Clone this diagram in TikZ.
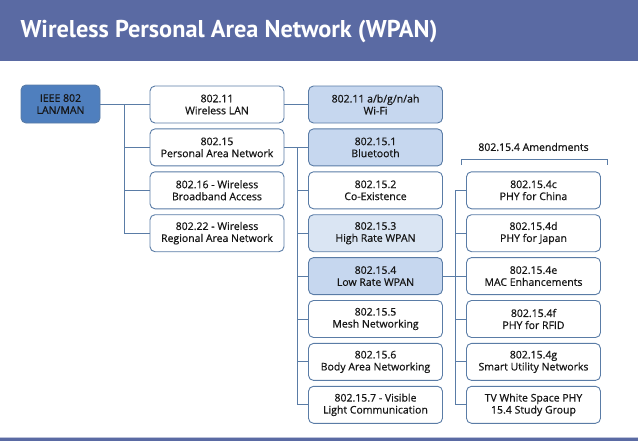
\documentclass[tikz,border=0pt]{standalone}
\usepackage{fontspec}
\setmainfont{Open Sans}
\newfontfamily\titlefont{PT Sans}
\newfontfamily\labelfont[FakeBold=0.6]{Open Sans}
\usetikzlibrary{positioning}
\definecolor{titlebar}{HTML}{5A6AA3}
\definecolor{boxline}{HTML}{5A7CA6}
\definecolor{dark}{HTML}{4F7FBE}
\definecolor{mid}{HTML}{C6D7EF}
\definecolor{light}{HTML}{DAE5F3}
\definecolor{txt}{HTML}{161616}
\tikzset{
  box/.style={draw=boxline, line width=0.9pt, rounded corners=5pt, minimum width=134pt, minimum height=37pt, align=center, inner sep=1pt, font=\labelfont\fontsize{10.5pt}{12pt}\selectfont, text=txt, fill=white},
  midbox/.style={box, fill=mid},
  lightbox/.style={box, fill=light},
  conn/.style={draw=boxline, line width=0.9pt},
}
\begin{document}
\begin{tikzpicture}[x=1pt,y=-1pt]
\useasboundingbox (0,0) rectangle (638,442);
\fill[titlebar] (0,0) rectangle (638,61);
\node[anchor=west, text=white, font=\titlefont\fontsize{24.3pt}{28pt}\selectfont\bfseries] (title) at (17,32) {Wireless Personal Area Network (WPAN)};
\fill[titlebar] (0,437.5) rectangle (638,441);
\fill[titlebar!40] (0,436.5) rectangle (638,437.5);

\node[box, fill=dark, minimum width=79pt, minimum height=38pt, text=txt] (ieee) at (60.5,104) {IEEE 802\\LAN/MAN};

\node[box] (a1) at (217,104.5) {802.11\\Wireless LAN};
\node[box] (a2) at (217,147.4) {802.15\\Personal Area Network};
\node[box] (a3) at (217,190.3) {802.16 - Wireless\\Broadband Access};
\node[box] (a4) at (217,233.2) {802.22 - Wireless\\Regional Area Network};

\node[midbox] (b1) at (375.5,104.5) {802.11 a/b/g/n/ah\\Wi-Fi};
\node[midbox] (b2) at (375.5,147.4) {802.15.1\\Bluetooth};
\node[box] (b3) at (375.5,190.3) {802.15.2\\Co-Existence};
\node[lightbox] (b4) at (375.5,233.2) {802.15.3\\High Rate WPAN};
\node[midbox] (b5) at (375.5,276.1) {802.15.4\\Low Rate WPAN};
\node[box] (b6) at (375.5,319.0) {802.15.5\\Mesh Networking};
\node[box] (b7) at (375.5,361.9) {802.15.6\\Body Area Networking};
\node[box] (b8) at (375.5,404.8) {802.15.7 - Visible\\Light Communication};

\node[box] (c3) at (533.5,190.3) {802.15.4c\\PHY for China};
\node[box] (c4) at (533.5,233.2) {802.15.4d\\PHY for Japan};
\node[box] (c5) at (533.5,276.1) {802.15.4e\\MAC Enhancements};
\node[box] (c6) at (533.5,319.0) {802.15.4f\\PHY for RFID};
\node[box] (c7) at (533.5,361.9) {802.15.4g\\Smart Utility Networks};
\node[box] (c8) at (533.5,404.8) {TV White Space PHY\\15.4 Study Group};

\node[font=\labelfont\fontsize{10.5pt}{12pt}\selectfont, text=txt] (amd) at (533.5,147) {802.15.4 Amendments};
\coordinate (brl) at (461,165);
\coordinate (brr) at (607,165);
\draw[conn] (brl) -- ++(0,-6) -| (brr);

% connectors from IEEE
\coordinate (j1) at (124,104);
\draw[conn] (ieee.east) -- (j1);
\foreach \n in {a1,a2,a3,a4} \draw[conn] (j1 |- \n.west) -- (\n.west);
\draw[conn] (j1) -- (j1 |- a4.west);

% a1 -> b1
\draw[conn] (a1.east) -- (b1.west);

% a2 -> b2..b8
\coordinate (j2) at (297,147.4);
\draw[conn] (a2.east) -- (j2);
\foreach \n in {b2,b3,b4,b5,b6,b7,b8} \draw[conn] (j2 |- \n.west) -- (\n.west);
\draw[conn] (j2) -- (j2 |- b8.west);

% b5 -> c3..c8
\coordinate (j3) at (455,276.1);
\draw[conn] (b5.east) -- (j3);
\foreach \n in {c3,c4,c5,c6,c7,c8} \draw[conn] (j3 |- \n.west) -- (\n.west);
\draw[conn] (j3 |- c3.west) -- (j3 |- c8.west);
\end{tikzpicture}
\end{document}
